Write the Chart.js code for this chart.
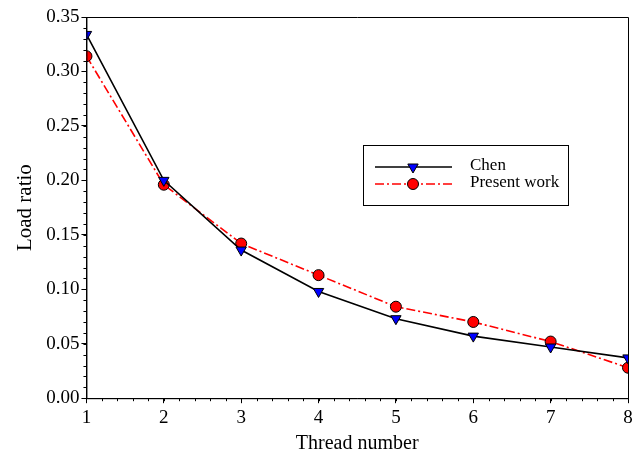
<!DOCTYPE html>
<html>
<head>
<meta charset="utf-8">
<script src="https://cdn.jsdelivr.net/npm/chart.js@4.4.1/dist/chart.umd.min.js"></script>
<style>
  html, body { margin: 0; padding: 0; background: #fff; }
  #wrap { width: 635px; height: 461px; }
</style>
</head>
<body>
<div id="wrap"><canvas id="chart"></canvas></div>
<script>
var threads = [1, 2, 3, 4, 5, 6, 7, 8];
var chen = [0.334, 0.200, 0.136, 0.098, 0.073, 0.057, 0.047, 0.037];
var present = [0.314, 0.196, 0.142, 0.113, 0.084, 0.070, 0.052, 0.028];
var seriesNames = ['Chen', 'Present work'];

var serif = '"Liberation Serif", "Times New Roman", serif';

function pts(ys) {
  return threads.map(function (x, i) { return { x: x, y: ys[i] }; });
}

// minor ticks, frame and the boxed legend
var extras = {
  id: 'extras',
  afterDraw: function (chart) {
    var ctx = chart.ctx;
    var a = chart.chartArea;
    var xs = chart.scales.x, ys = chart.scales.y;
    ctx.save();
    ctx.strokeStyle = '#000';
    ctx.lineWidth = 1;
    ctx.beginPath();
    ctx.rect(a.left + 0.5, a.top + 0.5, a.right - a.left, a.bottom - a.top);
    ctx.stroke();
    ctx.beginPath();
    for (var v = 1; v <= 8.0001; v += 0.2) {
      var px = Math.round(xs.getPixelForValue(v)) + 0.5;
      ctx.moveTo(px, a.bottom);
      ctx.lineTo(px, a.bottom + 3);
    }
    for (var w = 0; w <= 0.3501; w += 0.01) {
      var py = Math.round(ys.getPixelForValue(w)) + 0.5;
      ctx.moveTo(a.left, py);
      ctx.lineTo(a.left - 3, py);
    }
    ctx.stroke();

    // legend
    var bx = 363, by = 145, bw = 205, bh = 60;
    ctx.lineWidth = 1;
    ctx.strokeStyle = '#000';
    ctx.strokeRect(bx + 0.5, by + 0.5, bw, bh);
    var rows = [by + 22, by + 39];
    var dsets = chart.data.datasets;
    ctx.font = '17px ' + serif;
    ctx.textBaseline = 'middle';
    ctx.fillStyle = '#000';
    for (var i = 0; i < 2; i++) {
      var d = dsets[i];
      ctx.beginPath();
      ctx.setLineDash(d.borderDash || []);
      ctx.strokeStyle = d.borderColor;
      ctx.lineWidth = d.borderWidth;
      ctx.moveTo(bx + 12, rows[i]);
      ctx.lineTo(bx + 89, rows[i]);
      ctx.stroke();
      ctx.setLineDash([]);
      ctx.fillStyle = d.pointBackgroundColor;
      ctx.strokeStyle = '#000';
      ctx.lineWidth = 1;
      Chart.helpers.drawPoint(ctx, {
        pointStyle: d.pointStyle, rotation: d.pointRotation || 0,
        radius: d.pointRadius, borderWidth: 1
      }, bx + 50, rows[i]);
      ctx.fillStyle = '#000';
      ctx.fillText(seriesNames[i], bx + 107, rows[i] - 1);
    }
    ctx.restore();
  }
};

new Chart(document.getElementById('chart'), {
  type: 'line',
  data: {
    datasets: [
      {
        label: seriesNames[0],
        data: pts(chen),
        borderColor: '#000',
        borderWidth: 1.6,
        pointStyle: 'triangle',
        pointRotation: 180,
        pointRadius: 6,
        pointBackgroundColor: '#0000ff',
        pointBorderColor: '#000',
        pointBorderWidth: 1,
        tension: 0
      },
      {
        label: seriesNames[1],
        data: pts(present),
        borderColor: '#ff0000',
        borderWidth: 1.6,
        borderDash: [9, 3, 2, 3],
        pointStyle: 'circle',
        pointRadius: 5.5,
        pointBackgroundColor: '#ff0000',
        pointBorderColor: '#000',
        pointBorderWidth: 1,
        tension: 0
      }
    ]
  },
  options: {
    responsive: true,
    maintainAspectRatio: false,
    animation: false,
    layout: { padding: { top: 17, right: 0, left: 9, bottom: 1 } },
    plugins: { legend: { display: false }, tooltip: { enabled: false } },
    scales: {
      x: {
        type: 'linear',
        min: 1, max: 8,
        afterFit: function (scale) { scale.paddingRight = 3; },
        ticks: { stepSize: 1, color: '#000', font: { family: serif, size: 19 }, padding: 3 },
        grid: { drawOnChartArea: false, drawTicks: true, tickLength: 5, color: '#000' },
        border: { color: '#000', width: 1 },
        title: { display: true, text: 'Thread number', color: '#000', font: { family: serif, size: 20 }, padding: { top: 0, bottom: 4 } }
      },
      y: {
        min: 0, max: 0.35,
        ticks: {
          stepSize: 0.05, color: '#000', font: { family: serif, size: 19 }, padding: 2,
          callback: function (v) { return v.toFixed(2); }
        },
        grid: { drawOnChartArea: false, drawTicks: true, tickLength: 5, color: '#000' },
        border: { color: '#000', width: 1 },
        title: { display: true, text: 'Load ratio', color: '#000', font: { family: serif, size: 21 }, padding: { bottom: 6 } }
      }
    }
  },
  plugins: [extras]
});
</script>
</body>
</html>
